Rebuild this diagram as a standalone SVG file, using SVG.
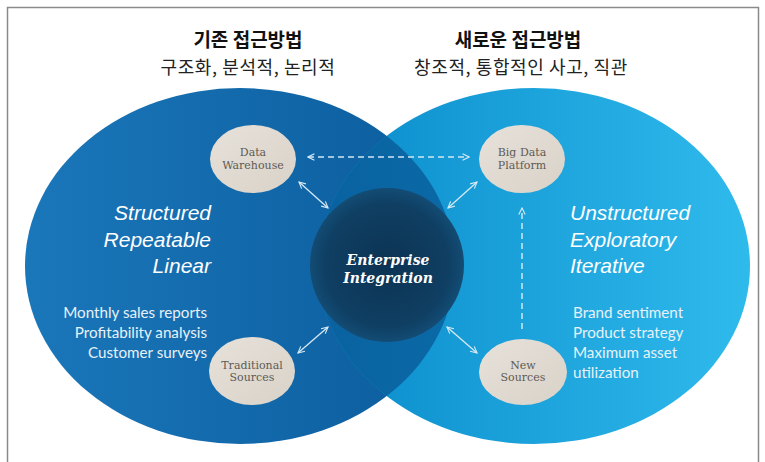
<svg xmlns="http://www.w3.org/2000/svg" width="765" height="462" viewBox="0 0 765 462">
  <style>
    .title { font-family: "Noto Sans CJK KR", "Noto Sans", sans-serif; font-weight: 700; font-size: 19px; fill: #111; text-anchor: middle; }
    .subtitle { font-family: "Noto Sans CJK KR", "Noto Sans", sans-serif; font-size: 18px; letter-spacing: 0.6px; fill: #222; text-anchor: middle; }
    .trait { font-family: "Liberation Sans", Arial, sans-serif; font-style: italic; font-size: 21px; fill: #ffffff; }
    .usecase { font-family: Lato, "Noto Sans", sans-serif; font-size: 15.2px; fill: #e8f1f8; }
    .node-label { font-family: "DejaVu Serif", "Liberation Serif", serif; font-size: 11px; fill: #5f5a54; text-anchor: middle; }
    .core-label { font-family: "DejaVu Serif", "Liberation Serif", serif; font-style: italic; font-weight: bold; font-size: 14px; fill: #ffffff; text-anchor: middle; }
    .node-shape { fill: url(#nodeFill); }
    .link { fill: none; stroke: #d6eaf6; stroke-width: 1.3; }
    .link-dashed { fill: none; stroke: #cfe6f5; stroke-width: 1.5; stroke-dasharray: 6 4; }
  </style>
  <defs>
    <linearGradient id="leftFill" x1="0" y1="0" x2="1" y2="0">
      <stop offset="0" stop-color="#1a77ba"/>
      <stop offset="1" stop-color="#0b5c9c"/>
    </linearGradient>
    <linearGradient id="rightFill" x1="0" y1="0" x2="1" y2="0">
      <stop offset="0" stop-color="#0a8ccb"/>
      <stop offset="1" stop-color="#2fbaec"/>
    </linearGradient>
    <linearGradient id="lensFill" x1="0" y1="0" x2="1" y2="0">
      <stop offset="0" stop-color="#0a62a0"/>
      <stop offset="1" stop-color="#0b78b4"/>
    </linearGradient>
    <radialGradient id="coreFill" cx="0.5" cy="0.5" r="0.5">
      <stop offset="0" stop-color="#0c3353"/>
      <stop offset="0.8" stop-color="#0f3f63"/>
      <stop offset="1" stop-color="#134c74"/>
    </radialGradient>
    <linearGradient id="nodeFill" x1="0" y1="0" x2="1" y2="1">
      <stop offset="0" stop-color="#e6e1da"/>
      <stop offset="1" stop-color="#d9d2c8"/>
    </linearGradient>
    <clipPath id="leftClip">
      <ellipse cx="240" cy="266" rx="215" ry="178"/>
    </clipPath>
    <marker id="head" viewBox="0 0 10 10" refX="9" refY="5" markerWidth="8" markerHeight="8" markerUnits="userSpaceOnUse" orient="auto-start-reverse">
      <path d="M1,1 L9,5 L1,9" fill="none" stroke="#d6eaf6" stroke-width="1.4"/>
    </marker>
  </defs>

  <!-- frame -->
  <rect x="7.5" y="7.5" width="751" height="470" fill="#ffffff" stroke="#8a8a8a" stroke-width="1.5"/>

  <!-- headings -->
  <g id="heading-left">
    <text class="title" x="248" y="47">기존 접근방법</text>
    <text class="subtitle" x="248" y="74">구조화, 분석적, 논리적</text>
  </g>
  <g id="heading-right">
    <text class="title" x="518" y="47">새로운 접근방법</text>
    <text class="subtitle" x="521" y="74">창조적, 통합적인 사고, 직관</text>
  </g>

  <!-- two overlapping approaches -->
  <g id="approach-left">
    <ellipse cx="240" cy="266" rx="215" ry="178" fill="url(#leftFill)"/>
  </g>
  <g id="approach-right">
    <ellipse cx="534" cy="266" rx="216" ry="178" fill="url(#rightFill)"/>
  </g>
  <g id="overlap">
    <ellipse cx="534" cy="266" rx="216" ry="178" fill="url(#lensFill)" clip-path="url(#leftClip)"/>
  </g>

  <!-- approach descriptions -->
  <g id="traits-left" class="trait" text-anchor="end">
    <text x="211" y="220">Structured</text>
    <text x="211" y="247">Repeatable</text>
    <text x="211" y="273">Linear</text>
  </g>
  <g id="traits-right" class="trait">
    <text x="570" y="220">Unstructured</text>
    <text x="570" y="247">Exploratory</text>
    <text x="570" y="273">Iterative</text>
  </g>
  <g id="uses-left" class="usecase" text-anchor="end">
    <text x="207" y="318">Monthly sales reports</text>
    <text x="207" y="338">Profitability analysis</text>
    <text x="207" y="358">Customer surveys</text>
  </g>
  <g id="uses-right" class="usecase">
    <text x="573" y="318">Brand sentiment</text>
    <text x="573" y="338">Product strategy</text>
    <text x="573" y="358">Maximum asset</text>
    <text x="573" y="378">utilization</text>
  </g>

  <!-- core -->
  <g id="enterprise-integration">
    <circle cx="387" cy="265" r="77" fill="url(#coreFill)"/>
    <text class="core-label" x="388" y="265">Enterprise</text>
    <text class="core-label" x="388" y="283">Integration</text>
  </g>

  <!-- connectors -->
  <g id="connectors">
    <line class="link-dashed" x1="308" y1="157" x2="469" y2="157" marker-start="url(#head)" marker-end="url(#head)"/>
    <line class="link-dashed" x1="522" y1="329" x2="522" y2="208" marker-end="url(#head)"/>
    <line class="link" x1="299" y1="182" x2="328" y2="208" marker-start="url(#head)" marker-end="url(#head)"/>
    <line class="link" x1="477" y1="182" x2="448" y2="208" marker-start="url(#head)" marker-end="url(#head)"/>
    <line class="link" x1="298" y1="353" x2="328" y2="327" marker-start="url(#head)" marker-end="url(#head)"/>
    <line class="link" x1="447" y1="327" x2="477" y2="353" marker-start="url(#head)" marker-end="url(#head)"/>
  </g>

  <!-- source nodes -->
  <g id="data-warehouse">
    <ellipse class="node-shape" cx="253" cy="159" rx="43" ry="34"/>
    <text class="node-label" x="253" y="156">Data</text>
    <text class="node-label" x="253" y="169">Warehouse</text>
  </g>
  <g id="big-data-platform">
    <ellipse class="node-shape" cx="522" cy="159" rx="43" ry="34"/>
    <text class="node-label" x="522" y="156">Big Data</text>
    <text class="node-label" x="522" y="169">Platform</text>
  </g>
  <g id="traditional-sources">
    <ellipse class="node-shape" cx="252" cy="371" rx="43" ry="34"/>
    <text class="node-label" x="252" y="369">Traditional</text>
    <text class="node-label" x="252" y="381">Sources</text>
  </g>
  <g id="new-sources">
    <ellipse class="node-shape" cx="523" cy="372" rx="44" ry="33"/>
    <text class="node-label" x="523" y="369">New</text>
    <text class="node-label" x="523" y="381">Sources</text>
  </g>
</svg>
